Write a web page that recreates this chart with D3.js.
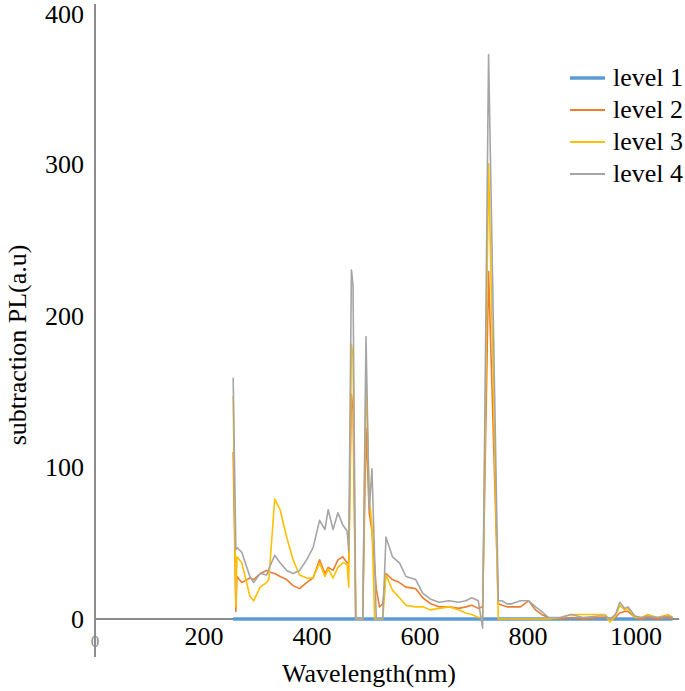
<!DOCTYPE html>
<html>
<head>
<meta charset="utf-8">
<script src="https://cdn.jsdelivr.net/npm/d3@7"></script>
<style>
  body { margin: 0; background: #fff; }
  text { font-family: "Liberation Serif", "Times New Roman", serif; fill: #000; }
</style>
</head>
<body>
<div id="chart"></div>
<script>
// wavelength (nm) sample points
var wavelength = [254, 259, 261, 270, 285, 292, 304, 316, 320, 331, 341, 353, 365, 377, 390, 402, 414, 424, 430, 439, 448, 457, 465, 468, 473, 476, 481, 494, 500, 506, 511, 516, 519, 525, 531, 537, 549, 562, 574, 592, 605, 620, 635, 654, 672, 685, 696, 708, 716, 727, 745, 752, 761, 770, 786, 801, 814, 825, 838, 860, 880, 902, 930, 943, 952, 962, 970, 979, 985, 998, 1010, 1022, 1040, 1059, 1068];
var level2 = [110, 5, 28, 24, 27, 26, 30, 32, 31, 30, 28, 26, 22, 20, 24, 27, 39, 30, 34, 32, 39, 41, 37, 37, 148, 138, 0, 0, 126, 70, 58, 35, 20, 8, 10, 30, 26, 24, 21, 20, 14, 10, 8, 8, 7, 8, 9, 7, 8, 229, 10, 9, 8, 8, 8, 12, 6, 3, 1, 0, 1, 0, 1, 1, 0, 1, 4, 5, 5, 1, 0, 1, 0, 1, 0];
var level3 = [147, 8, 41, 37, 15, 12, 21, 24, 26, 79, 72, 54, 39, 29, 27, 27, 37, 28, 33, 27, 34, 37, 36, 21, 181, 172, 0, 0, 162, 80, 62, 0, 0, 0, 0, 29, 19, 14, 9, 8, 8, 6, 7, 8, 6, 4, 3, 1, 1, 300, 0, 0, 0, 0, 0, 0, 0, 0, 0, 1, 3, 3, 3, 3, -2, 2, 9, 6, 7, 1, 1, 3, 1, 3, 1];
var level4 = [159, 46, 47, 44, 28, 24, 30, 29, 33, 42, 37, 32, 30, 32, 39, 47, 65, 59, 72, 59, 70, 62, 58, 45, 230, 220, 0, 0, 186, 72, 99, 40, 0, 0, 0, 54, 41, 37, 28, 26, 17, 13, 11, 12, 11, 12, 14, 12, -6, 372, 12, 12, 10, 10, 12, 12, 8, 5, 1, 1, 3, 1, 2, 2, 0, 3, 11, 7, 8, 2, 1, 2, 1, 2, 1];
// level 1 stays on the zero line over the whole range
var level1Wavelength = [254, 1068];
var level1 = [0, 0];

var seriesNames = ["level 1", "level 2", "level 3", "level 4"];
var seriesColors = ["#5b9bd5", "#ed7d31", "#ffc000", "#a5a5a5"];
var xTicks = [200, 400, 600, 800, 1000];
var yTicks = [0, 100, 200, 300, 400];

var width = 685, height = 691;
var svg = d3.select("#chart").append("svg").attr("width", width).attr("height", height);

var x_scale = d3.scaleLinear().domain([0, 1000]).range([96, 636]);
var y_scale = d3.scaleLinear().domain([0, 400]).range([619, 12]);

// axes lines (grey, no tick marks)
svg.append("line")
    .attr("x1", x_scale(0) - 1).attr("x2", x_scale(0) - 1)
    .attr("y1", 4).attr("y2", 657)
    .attr("stroke", "#8c8c8c").attr("stroke-width", 2);
svg.append("line")
    .attr("x1", x_scale(0) - 1).attr("x2", x_scale(1080))
    .attr("y1", y_scale(0)).attr("y2", y_scale(0))
    .attr("stroke", "#8c8c8c").attr("stroke-width", 2);

// tick labels
svg.selectAll(".ytick").data(yTicks).enter().append("text")
    .attr("class", "ytick")
    .attr("x", 84)
    .attr("y", function (d) { return Math.max(y_scale(d) + 9, 23); })
    .attr("text-anchor", "end")
    .style("font-size", "26px")
    .text(function (d) { return d; });
svg.selectAll(".xtick").data(xTicks).enter().append("text")
    .attr("class", "xtick")
    .attr("x", function (d) { return x_scale(d); })
    .attr("y", 645)
    .attr("text-anchor", "middle")
    .style("font-size", "26px")
    .text(function (d) { return d; });
svg.append("text")
    .attr("x", x_scale(0) - 1).attr("y", 647)
    .attr("text-anchor", "middle")
    .style("font-size", "17px")
    .style("fill", "#8c8c8c")
    .text("0");

// axis titles
svg.append("text")
    .attr("x", 369).attr("y", 682)
    .attr("text-anchor", "middle")
    .style("font-size", "26px")
    .text("Wavelength(nm)");
svg.append("text")
    .attr("transform", "translate(26,345)rotate(-90)")
    .attr("text-anchor", "middle")
    .style("font-size", "26px")
    .text("subtraction PL(a.u)");

// lines
var line = d3.line()
    .x(function (d) { return x_scale(d[0]); })
    .y(function (d) { return y_scale(d[1]); });

svg.append("path")
    .datum(d3.zip(level1Wavelength, level1))
    .attr("d", line)
    .attr("fill", "none")
    .attr("stroke", seriesColors[0])
    .attr("stroke-width", 3.5);

[level2, level3, level4].forEach(function (vals, i) {
    svg.append("path")
        .datum(d3.zip(wavelength, vals))
        .attr("d", line)
        .attr("fill", "none")
        .attr("stroke", seriesColors[i + 1])
        .attr("stroke-width", 1.6)
        .attr("stroke-linejoin", "round");
});

// legend
var legend = svg.selectAll(".legend").data(seriesNames).enter().append("g")
    .attr("class", "legend")
    .attr("transform", function (d, i) { return "translate(570," + (78 + i * 32) + ")"; });
legend.append("line")
    .attr("x1", 0).attr("x2", 35)
    .attr("stroke", function (d, i) { return seriesColors[i]; })
    .attr("stroke-width", function (d, i) { return i == 0 ? 3.5 : 2; });
legend.append("text")
    .attr("x", 43).attr("y", 8)
    .style("font-size", "26px")
    .text(function (d) { return d; });
</script>
</body>
</html>
